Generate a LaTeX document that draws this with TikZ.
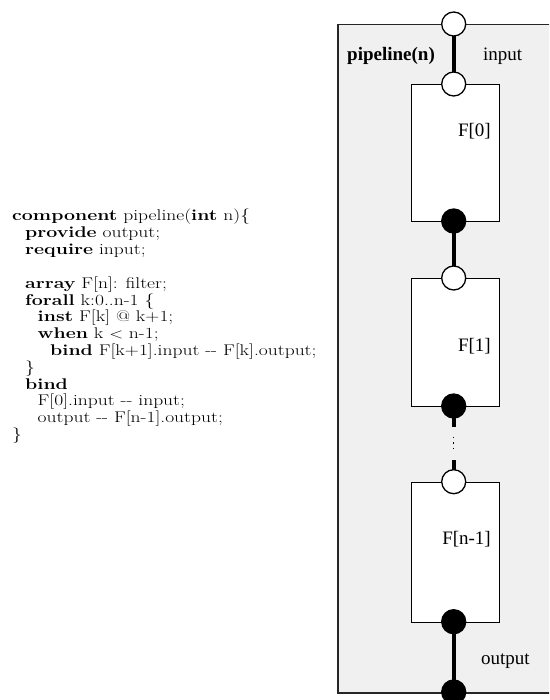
\documentclass[tikz,border=0pt]{standalone}
\usepackage{fontspec}
\usepackage{graphicx}
\newfontfamily\timesf{Liberation Serif}
\newcommand{\cl}[1]{\scalebox{1.26}[1]{#1}}
\begin{document}
\begin{tikzpicture}[x=1pt,y=-1pt,
  codeline/.style={anchor=base west,inner sep=0pt,font=\fontsize{15.5}{17}\selectfont},
  lbl/.style={inner sep=0pt,font=\timesf\fontsize{19}{22}\selectfont},
  filterbox/.style={draw=black,line width=1.3pt,fill=white,minimum width=88pt,anchor=north,inner sep=0pt},
  inport/.style={circle,draw=black,line width=1.3pt,fill=white,minimum size=24pt,inner sep=0pt},
  outport/.style={circle,draw=black,line width=1.3pt,fill=black,minimum size=24pt,inner sep=0pt},
  wire/.style={line width=4pt,black}]
\useasboundingbox (0,0) rectangle (549,700);
\clip (0,0) rectangle (549,700);
% code
\node[codeline] (c0) at (12,221) {\cl{\textbf{component} pipeline(\textbf{int} n)\{}};
\node[codeline] (c1) at (25,237.8) {\cl{\textbf{provide} output;}};
\node[codeline] (c2) at (25,254.6) {\cl{\textbf{require} input;}};
\node[codeline] (c4) at (25,288.2) {\cl{\textbf{array} F[n]: filter;}};
\node[codeline] (c5) at (25,305) {\cl{\textbf{forall} k:0..n-1 \{}};
\node[codeline] (c6) at (37.5,321.8) {\cl{\textbf{inst} F[k] @ k+1;}};
\node[codeline] (c7) at (37.5,338.6) {\cl{\textbf{when} k $<$ n-1;}};
\node[codeline] (c8) at (50,355.4) {\cl{\textbf{bind} F[k+1].input {-}{-} F[k].output;}};
\node[codeline] (c9) at (25,372.2) {\cl{\}}};
\node[codeline] (c10) at (25,389) {\cl{\textbf{bind}}};
\node[codeline] (c11) at (37.5,405.8) {\cl{F[0].input {-}{-} input;}};
\node[codeline] (c12) at (37.5,422.6) {\cl{output {-}{-} F[n-1].output;}};
\node[codeline] (c13) at (12,439.4) {\cl{\}}};
% outer component
\node[draw=black!85,line width=1.5pt,fill=black!6,anchor=north west,minimum width=240pt,minimum height=668pt,inner sep=0pt] (pipe) at (337,24) {};
\node[lbl,anchor=base west,font=\timesf\bfseries\fontsize{19}{22}\selectfont] (pname) at (347,61) {pipeline(n)};
\node[lbl,anchor=base west] (inlbl) at (483,61) {input};
\node[lbl,anchor=base west] (outlbl) at (481,664) {output};
% filters
\node[filterbox,minimum height=137pt] (F0) at (455.7,84) {};
\node[filterbox,minimum height=128pt] (F1) at (455.7,278) {};
\node[filterbox,minimum height=140pt] (Fn) at (455.7,481.7) {};
\node[lbl,anchor=base east] (F0l) at (491,137) {F[0]};
\node[lbl,anchor=base east] (F1l) at (491,351) {F[1]};
\node[lbl,anchor=base east] (Fnl) at (491,544) {F[n-1]};
% port positions
\coordinate (pinpos) at (453.7,24);
\coordinate (poutpos) at (453.7,692);
\coordinate (g1) at (453.7,427);
\coordinate (g2) at (453.7,460);
\coordinate (d1) at (453.7,437);
\coordinate (d2) at (453.7,452);
% wires
\draw[wire] (pinpos) -- (453.7,84);
\draw[wire] (453.7,221) -- (453.7,278);
\draw[wire] (453.7,406) -- (g1);
\draw[line width=1.4pt,dash pattern=on 1.4pt off 4pt] (d1) -- (d2);
\draw[wire] (g2) -- (453.7,481.7);
\draw[wire] (453.7,621.7) -- (poutpos);
% ports
\node[inport] (pin) at (pinpos) {};
\node[inport] (f0in) at (453.7,84) {};
\node[outport] (f0out) at (453.7,221) {};
\node[inport] (f1in) at (453.7,278) {};
\node[outport] (f1out) at (453.7,406) {};
\node[inport] (fnin) at (453.7,481.7) {};
\node[outport] (fnout) at (453.7,621.7) {};
\node[outport] (pout) at (poutpos) {};
\end{tikzpicture}
\end{document}
